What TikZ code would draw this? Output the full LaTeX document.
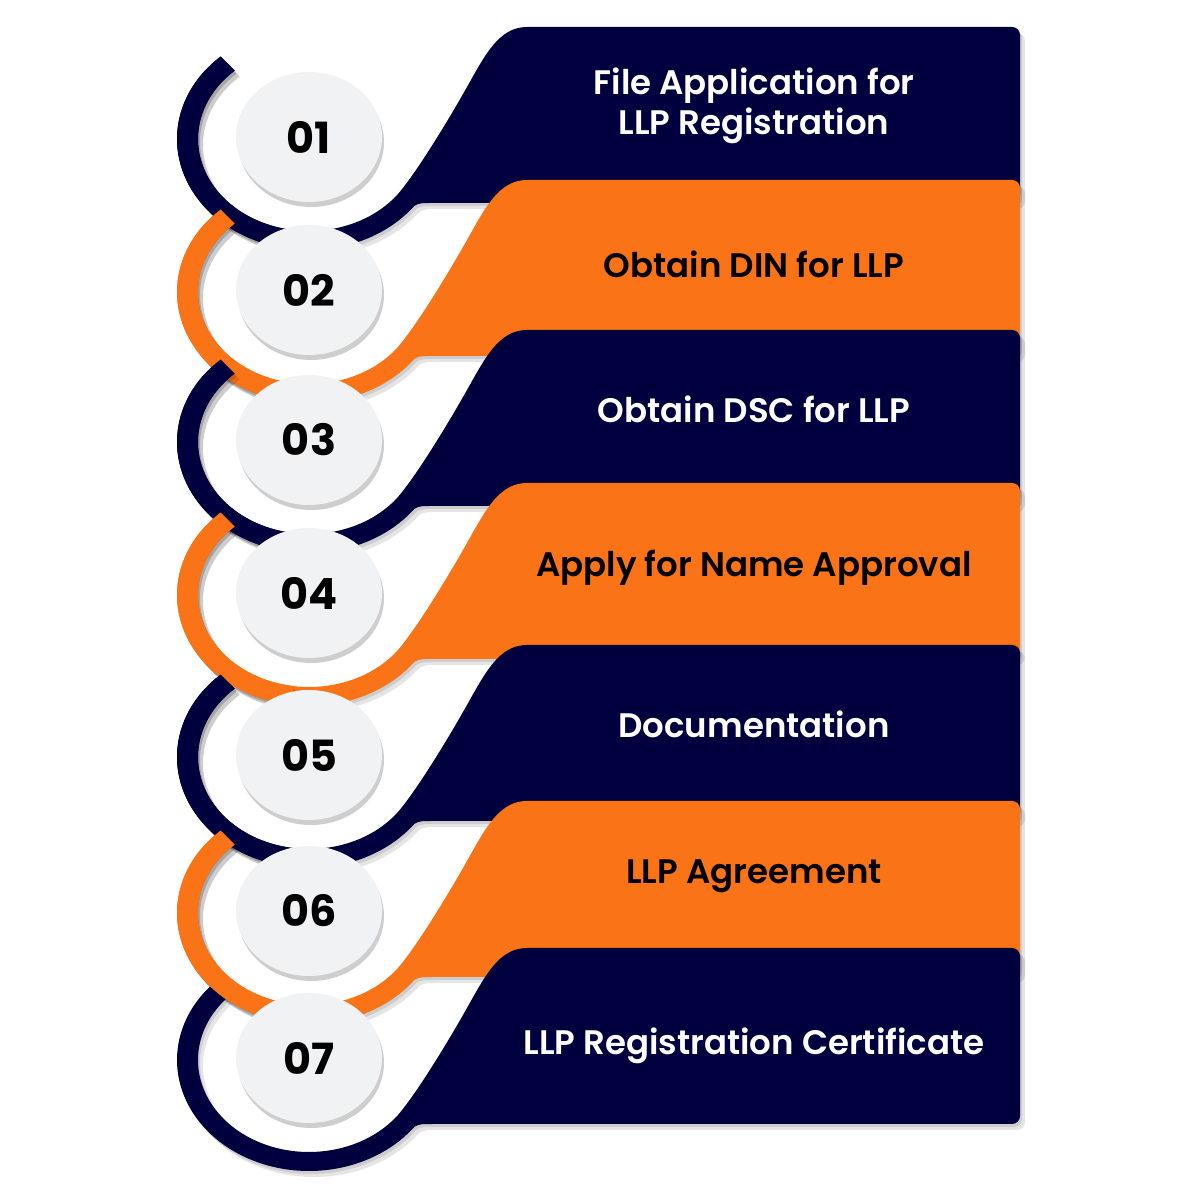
\documentclass[tikz,border=0pt]{standalone}
\usepackage{fontspec}
\setmainfont{Poppins}
\newfontfamily\semib{Poppins SemiBold}
\usetikzlibrary{shapes.geometric,shadows}
\definecolor{navy}{HTML}{01003F}
\definecolor{orng}{HTML}{FA7316}
\definecolor{badgefill}{HTML}{F1F2F4}
\tikzset{
  bandshape/.style={insert path={
    (132:132 and 111) arc[start angle=132,end angle=323,x radius=132,y radius=111]
    .. controls (110,-64) and (113,-64) .. (124,-64) -- (703,-64)
    arc[start angle=-90,end angle=0,radius=8] -- (711,104)
    arc[start angle=0,end angle=90,radius=8] -- (218,112)
    .. controls (190,112) and (176,84) .. (158,52)
    .. controls (140,20) and (108,-33) .. (-37:111 and 92)
    arc[start angle=-37,end angle=-228,x radius=111,y radius=92] -- cycle}},
  ringshape/.style={insert path={
    (132:132 and 111) arc[start angle=132,end angle=262,x radius=132,y radius=111]
    -- (262:111 and 92) arc[start angle=262,end angle=132,x radius=111,y radius=92] -- cycle}},
  badge/.style={ellipse, fill=badgefill, inner sep=0pt, minimum width=73pt, minimum height=65pt,
    drop shadow={shadow xshift=1pt, shadow yshift=-2.5pt, opacity=.35, fill=black!55},
    font=\fontsize{21.5}{23}\selectfont\bfseries, text=black},
  steptext/.style={align=center, font=\fontsize{17}{20}\selectfont\semib},
}
\newcommand\stepk[2]{%
  \begin{scope}[shift={(309,1198-#1)}]
    \begin{scope}[shift={(5,-6)}]\fill[black,opacity=.10,bandshape];\end{scope}
    \begin{scope}[shift={(2,-3)}]\fill[black,opacity=.10,bandshape];\end{scope}
    \fill[#2,bandshape];
  \end{scope}}
\newcommand\ringk[2]{%
  \begin{scope}[shift={(309,1198-#1)}]
    \begin{scope}[shift={(5,-6)}]\fill[black,opacity=.10,ringshape];\end{scope}
    \begin{scope}[shift={(2,-3)}]\fill[black,opacity=.10,ringshape];\end{scope}
    \fill[#2,ringshape];
  \end{scope}}
\begin{document}
\begin{tikzpicture}[x=0.5pt,y=0.5pt]
  \useasboundingbox (0,0) rectangle (1200,1200);
  \fill[white] (0,0) rectangle (1200,1200);
  \stepk{137}{navy}
  \stepk{290}{orng} \ringk{137}{navy}
  \stepk{440}{navy} \ringk{290}{orng}
  \stepk{593}{orng} \ringk{440}{navy}
  \stepk{755}{navy} \ringk{593}{orng}
  \stepk{911}{orng} \ringk{755}{navy}
  \stepk{1058}{navy} \ringk{911}{orng}
  % badges
  \node[badge] (b1) at (309,1200-137) {01};
  \node[badge] (b2) at (309,1200-290) {02};
  \node[badge] (b3) at (309,1200-440) {03};
  \node[badge] (b4) at (309,1200-593) {04};
  \node[badge] (b5) at (309,1200-755) {05};
  \node[badge] (b6) at (309,1200-911) {06};
  \node[badge] (b7) at (309,1200-1058) {07};
  % texts
  \node[steptext, text=white] (t1) at (754,1200-106) {File Application for\\LLP Registration};
  \node[steptext, text=black] (t2) at (754,1200-264) {Obtain DIN for LLP};
  \node[steptext, text=white] (t3) at (754,1200-409) {Obtain DSC for LLP};
  \node[steptext, text=black] (t4) at (754,1200-568) {Apply for Name Approval};
  \node[steptext, text=white] (t5) at (754,1200-724) {Documentation};
  \node[steptext, text=black] (t6) at (754,1200-876) {LLP Agreement};
  \node[steptext, text=white] (t7) at (754,1200-1046) {LLP Registration Certificate};
\end{tikzpicture}
\end{document}
